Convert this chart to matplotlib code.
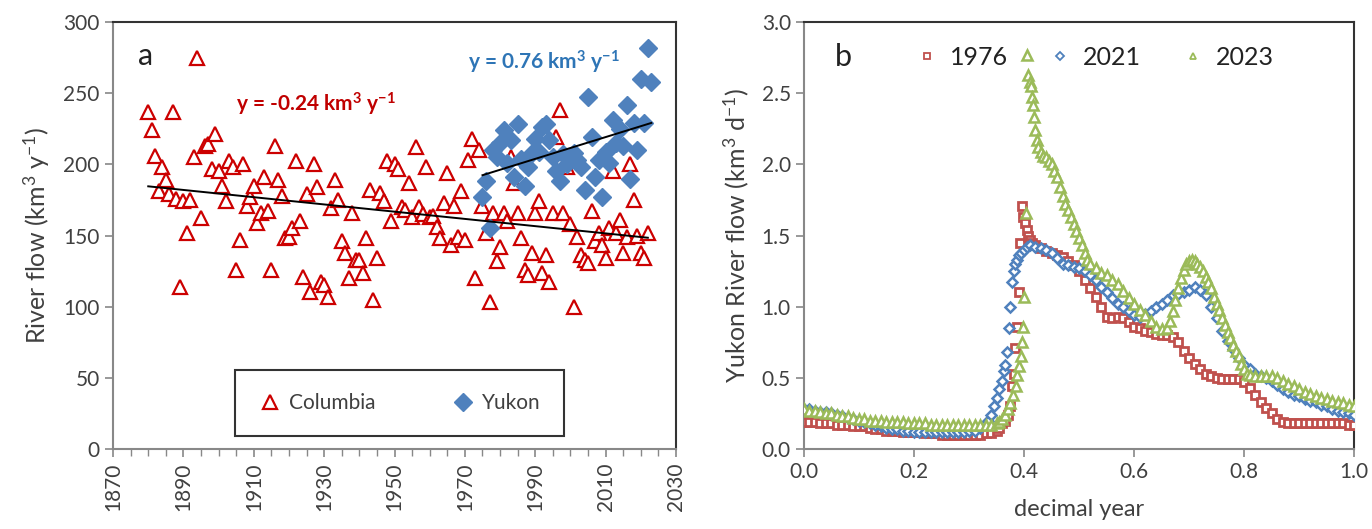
import numpy as np
import matplotlib.pyplot as plt

plt.rcParams['font.family'] = ['Lato', 'DejaVu Sans']
plt.rcParams['mathtext.default'] = 'regular'

# ---- panel a: annual river flow (km3/yr) ----
columbia_years = list(range(1880, 2023))
columbia_flow = [
    237, 224, 206, 181, 198, 189, 179, 237, 176, 114,
    174, 152, 175, 205, 275, 162, 213, 214, 197, 221,
    195, 185, 174, 202, 198, 126, 147, 200, 171, 177,
    185, 159, 166, 191, 167, 126, 213, 189, 178, 148,
    149, 155, 202, 160, 121, 179, 110, 200, 184, 117,
    115, 107, 169, 189, 175, 146, 138, 120, 166, 133,
    133, 124, 148, 182, 105, 134, 180, 174, 202, 160,
    200, 197, 170, 168, 187, 163, 212, 170, 165, 198,
    163, 164, 156, 148, 173, 194, 143, 171, 149, 181,
    147, 203, 218, 120, 210, 171, 152, 103, 166, 132,
    142, 166, 160, 205, 187, 166, 148, 126, 122, 138,
    166, 174, 124, 136, 117, 166, 219, 238, 166, 198,
    158, 100, 149, 136, 133, 131, 167, 146, 152, 143,
    134, 155, 195, 152, 161, 138, 149, 200, 175, 150,
    138, 134, 152]

yukon_years = list(range(1975, 2024))
yukon_flow = [
    177, 188, 155, 210, 205, 215, 224, 201, 217, 191,
    228, 204, 185, 198, 208, 218, 209, 226, 228, 217,
    205, 195, 188, 207, 200, 205, 208, 203, 198, 182,
    247, 219, 191, 203, 177, 209, 201, 231, 215, 225,
    213, 242, 190, 229, 210, 260, 229, 282, 258]

# ---- panel b: daily Yukon flow (km3/d) vs decimal year ----
x1976 = [0.00, 0.01, 0.02, 0.03, 0.04, 0.05, 0.06, 0.07, 0.08, 0.09,
         0.10, 0.11, 0.12, 0.13, 0.14, 0.15, 0.16, 0.17, 0.18, 0.19,
         0.20, 0.21, 0.22, 0.23, 0.24, 0.25, 0.26, 0.27, 0.28, 0.29,
         0.30, 0.31, 0.32, 0.33, 0.34, 0.35, 0.355, 0.36, 0.365, 0.37,
         0.375, 0.378, 0.381, 0.384, 0.387, 0.39, 0.393, 0.396, 0.399, 0.402,
         0.405, 0.408, 0.411, 0.414, 0.42, 0.43, 0.44, 0.45, 0.46, 0.47,
         0.48, 0.49, 0.50, 0.51, 0.52, 0.53, 0.54, 0.55, 0.56, 0.57,
         0.58, 0.59, 0.60, 0.61, 0.62, 0.63, 0.64, 0.65, 0.66, 0.67,
         0.68, 0.69, 0.70, 0.71, 0.72, 0.73, 0.74, 0.75, 0.76, 0.77,
         0.78, 0.79, 0.80, 0.81, 0.82, 0.83, 0.84, 0.85, 0.86, 0.87,
         0.88, 0.89, 0.90, 0.91, 0.92, 0.93, 0.94, 0.95, 0.96, 0.97,
         0.98, 0.99, 1.00]
q1976 = [0.19, 0.19, 0.19, 0.18, 0.18, 0.18, 0.17, 0.17, 0.17, 0.16,
         0.16, 0.16, 0.15, 0.14, 0.14, 0.13, 0.13, 0.13, 0.12, 0.12,
         0.12, 0.12, 0.11, 0.11, 0.11, 0.10, 0.10, 0.10, 0.10, 0.10,
         0.10, 0.10, 0.10, 0.11, 0.11, 0.13, 0.15, 0.18, 0.20, 0.24,
         0.30, 0.44, 0.53, 0.71, 0.86, 1.10, 1.45, 1.71, 1.63, 1.59,
         1.54, 1.50, 1.47, 1.45, 1.43, 1.41, 1.39, 1.38, 1.36, 1.35,
         1.32, 1.29, 1.25, 1.19, 1.13, 1.07, 1.00, 0.93, 0.92, 0.93,
         0.92, 0.89, 0.86, 0.85, 0.83, 0.82, 0.81, 0.80, 0.80, 0.79,
         0.75, 0.69, 0.64, 0.60, 0.56, 0.53, 0.51, 0.50, 0.49, 0.49,
         0.49, 0.49, 0.47, 0.43, 0.38, 0.33, 0.29, 0.25, 0.21, 0.19,
         0.18, 0.18, 0.18, 0.18, 0.18, 0.18, 0.18, 0.18, 0.18, 0.18,
         0.18, 0.17, 0.17]

x2021 = [0.00, 0.01, 0.02, 0.03, 0.04, 0.05, 0.06, 0.07, 0.08, 0.09,
         0.10, 0.11, 0.12, 0.13, 0.14, 0.15, 0.16, 0.17, 0.18, 0.19,
         0.20, 0.21, 0.22, 0.23, 0.24, 0.25, 0.26, 0.27, 0.28, 0.29,
         0.30, 0.31, 0.32, 0.33, 0.335, 0.34, 0.345, 0.35, 0.355, 0.36,
         0.363, 0.366, 0.369, 0.372, 0.375, 0.378, 0.381, 0.384, 0.387, 0.39,
         0.395, 0.40, 0.405, 0.41, 0.42, 0.43, 0.44, 0.45, 0.46, 0.47,
         0.48, 0.49, 0.50, 0.51, 0.52, 0.53, 0.54, 0.55, 0.56, 0.57,
         0.58, 0.59, 0.60, 0.61, 0.62, 0.63, 0.64, 0.65, 0.66, 0.67,
         0.68, 0.69, 0.70, 0.71, 0.72, 0.73, 0.74, 0.75, 0.76, 0.77,
         0.78, 0.79, 0.80, 0.81, 0.82, 0.83, 0.84, 0.85, 0.86, 0.87,
         0.88, 0.89, 0.90, 0.91, 0.92, 0.93, 0.94, 0.95, 0.96, 0.97,
         0.98, 0.99, 1.00]
q2021 = [0.28, 0.28, 0.27, 0.26, 0.26, 0.25, 0.24, 0.23, 0.22, 0.21,
         0.20, 0.19, 0.18, 0.17, 0.16, 0.15, 0.14, 0.14, 0.13, 0.13,
         0.12, 0.12, 0.12, 0.12, 0.12, 0.12, 0.12, 0.12, 0.12, 0.12,
         0.13, 0.13, 0.15, 0.18, 0.20, 0.24, 0.30, 0.36, 0.42, 0.48,
         0.55, 0.59, 0.68, 0.85, 1.00, 1.17, 1.25, 1.30, 1.33, 1.36,
         1.38, 1.40, 1.42, 1.43, 1.42, 1.41, 1.40, 1.38, 1.34, 1.30,
         1.29, 1.28, 1.27, 1.25, 1.22, 1.19, 1.14, 1.10, 1.06, 1.02,
         1.00, 0.97, 0.94, 0.93, 0.95, 0.97, 1.00, 1.02, 1.05, 1.08,
         1.09, 1.10, 1.12, 1.14, 1.12, 1.08, 1.00, 0.92, 0.83, 0.76,
         0.70, 0.64, 0.59, 0.56, 0.53, 0.51, 0.50, 0.48, 0.45, 0.42,
         0.40, 0.38, 0.37, 0.35, 0.34, 0.33, 0.31, 0.30, 0.28, 0.27,
         0.26, 0.25, 0.24]

x2023 = [0.00, 0.01, 0.02, 0.03, 0.04, 0.05, 0.06, 0.07, 0.08, 0.09,
         0.10, 0.11, 0.12, 0.13, 0.14, 0.15, 0.16, 0.17, 0.18, 0.19,
         0.20, 0.21, 0.22, 0.23, 0.24, 0.25, 0.26, 0.27, 0.28, 0.29,
         0.30, 0.31, 0.32, 0.33, 0.34, 0.35, 0.355, 0.36, 0.365, 0.37,
         0.375, 0.38, 0.385, 0.388, 0.391, 0.394, 0.396, 0.398, 0.400, 0.403,
         0.406, 0.408, 0.410, 0.412, 0.414, 0.416, 0.418, 0.420, 0.423, 0.426,
         0.430, 0.435, 0.440, 0.445, 0.450, 0.455, 0.460, 0.465, 0.470, 0.475,
         0.480, 0.485, 0.490, 0.495, 0.500, 0.505, 0.510, 0.515, 0.520, 0.530,
         0.540, 0.550, 0.560, 0.570, 0.580, 0.590, 0.600, 0.610, 0.620, 0.630,
         0.640, 0.650, 0.660, 0.665, 0.670, 0.675, 0.680, 0.685, 0.690, 0.695,
         0.700, 0.705, 0.710, 0.715, 0.720, 0.725, 0.730, 0.735, 0.740, 0.745,
         0.750, 0.755, 0.760, 0.765, 0.770, 0.775, 0.780, 0.785, 0.790, 0.795,
         0.800, 0.805, 0.810, 0.820, 0.830, 0.840, 0.850, 0.860, 0.870, 0.880,
         0.890, 0.900, 0.910, 0.920, 0.930, 0.940, 0.950, 0.960, 0.970, 0.980,
         0.990, 1.000]
q2023 = [0.28, 0.27, 0.27, 0.26, 0.25, 0.25, 0.24, 0.23, 0.23, 0.22,
         0.21, 0.21, 0.20, 0.20, 0.20, 0.19, 0.19, 0.19, 0.19, 0.18,
         0.18, 0.18, 0.18, 0.17, 0.17, 0.17, 0.17, 0.17, 0.17, 0.17,
         0.17, 0.17, 0.17, 0.17, 0.17, 0.18, 0.19, 0.21, 0.24, 0.28,
         0.32, 0.38, 0.44, 0.52, 0.58, 0.65, 0.75, 0.86, 1.07, 1.66,
         2.77, 2.63, 2.58, 2.55, 2.47, 2.42, 2.33, 2.24, 2.17, 2.12,
         2.09, 2.06, 2.05, 2.02, 2.00, 1.95, 1.91, 1.84, 1.78, 1.72,
         1.68, 1.63, 1.58, 1.53, 1.48, 1.43, 1.38, 1.33, 1.30, 1.27,
         1.24, 1.22, 1.19, 1.16, 1.11, 1.06, 1.02, 0.98, 0.94, 0.90,
         0.86, 0.84, 0.85, 0.90, 0.97, 1.05, 1.13, 1.20, 1.26, 1.30,
         1.32, 1.33, 1.32, 1.30, 1.28, 1.25, 1.21, 1.17, 1.13, 1.07,
         1.02, 0.98, 0.92, 0.87, 0.82, 0.78, 0.73, 0.69, 0.65, 0.60,
         0.56, 0.53, 0.52, 0.51, 0.51, 0.51, 0.51, 0.50, 0.48, 0.46,
         0.44, 0.42, 0.40, 0.39, 0.37, 0.36, 0.35, 0.34, 0.33, 0.32,
         0.31, 0.30]

red = '#C00000'
red2 = '#C0504D'
blue = '#4F81BD'
green = '#9BBB59'
txt = '#404040'
grey = '#888888'

fig = plt.figure(figsize=(13.72, 5.29), dpi=100)

# ---------------- panel a ----------------
ax = fig.add_axes([0.0824, 0.1512, 0.4103, 0.8072])
ax.plot(columbia_years, columbia_flow, ls='none', marker='^', ms=10,
        mfc='white', mec='#CC0000', mew=1.6, label='Columbia', zorder=3)
ax.plot(yukon_years, yukon_flow, ls='none', marker='D', ms=9.5,
        mfc=blue, mec=blue, label='Yukon', zorder=4)

for yrs, vals in [(columbia_years, columbia_flow), (yukon_years, yukon_flow)]:
    p = np.polyfit(yrs, vals, 1)
    xx = np.array([yrs[0], yrs[-1]])
    ax.plot(xx, np.polyval(p, xx), color='black', lw=1.4, zorder=5)

ax.set_xlim(1870, 2030)
ax.set_ylim(0, 300)
ax.set_xticks(range(1870, 2031, 20))
ax.set_xticks(range(1870, 2031, 5), minor=True)
ax.set_yticks(range(0, 301, 50))
ax.tick_params(axis='x', rotation=90)
ax.tick_params(labelsize=15, colors=txt, length=6, width=1.2, color=grey)
ax.tick_params(axis='x', which='minor', length=5, width=1.0, color=grey)
ax.set_ylabel('River flow (km$^3$ y$^{-1}$)', fontsize=18, color=txt, labelpad=8)
ax.text(0.057, 0.92, 'a', transform=ax.transAxes, fontsize=22, color='#222222',
        va='center', ha='center')
ax.text(0.36, 0.808, 'y = -0.24 km$^3$ y$^{-1}$', transform=ax.transAxes,
        fontsize=15, color=red, fontweight='bold', ha='center', va='center')
ax.text(0.765, 0.905, 'y = 0.76 km$^3$ y$^{-1}$', transform=ax.transAxes,
        fontsize=15, color='#2E75B6', fontweight='bold', ha='center', va='center')
leg = ax.legend(loc='center', bbox_to_anchor=(0.5085, 0.108), ncol=2,
                fontsize=15, frameon=True, fancybox=False, borderpad=1.1,
                columnspacing=3.6, handletextpad=0.3, handlelength=1.2,
                labelcolor=txt)
leg.get_frame().set_edgecolor('black')
leg.get_frame().set_linewidth(1.5)

# ---------------- panel b ----------------
bx = fig.add_axes([0.5860, 0.1512, 0.4009, 0.8072])
bx.plot(x1976, q1976, ls='none', marker='s', ms=5.5, mfc='white', mec=red2,
        mew=2.0, label='1976', zorder=3)
bx.plot(x2021, q2021, ls='none', marker='D', ms=5.5, mfc='white', mec=blue,
        mew=1.8, label='2021', zorder=4)
bx.plot(x2023, q2023, ls='none', marker='^', ms=6.5, mfc='white', mec=green,
        mew=1.8, label='2023', zorder=5)
bx.set_xlim(0, 1.0)
bx.set_ylim(0, 3.0)
bx.set_xticks(np.arange(0, 1.01, 0.2))
bx.set_yticks(np.arange(0, 3.01, 0.5))
bx.xaxis.set_major_formatter(plt.FormatStrFormatter('%.1f'))
bx.yaxis.set_major_formatter(plt.FormatStrFormatter('%.1f'))
bx.tick_params(labelsize=15, colors=txt, length=6, width=1.2, color=grey)
bx.set_ylabel('Yukon River flow (km$^3$ d$^{-1}$)', fontsize=18, color=txt, labelpad=8)
bx.set_xlabel('decimal year', fontsize=17, color=txt, labelpad=12)
bx.text(0.071, 0.918, 'b', transform=bx.transAxes, fontsize=22, color='#222222',
        va='center', ha='center')
lg = bx.legend(loc='center left', bbox_to_anchor=(0.16, 0.918), ncol=3, fontsize=18,
               frameon=False, columnspacing=1.6, handletextpad=0.4, handlelength=1.0,
               labelcolor='#222222')
for h in lg.legend_handles:
    h.set_markersize(4.5)
    h.set_markeredgewidth(1.3)

for a in (ax, bx):
    a.spines['left'].set_color(grey)
    a.spines['bottom'].set_color(grey)
    a.spines['top'].set_color('#333333')
    a.spines['right'].set_color('#333333')
    for s in a.spines.values():
        s.set_linewidth(1.5)

fig.savefig('out.png', dpi=100)
